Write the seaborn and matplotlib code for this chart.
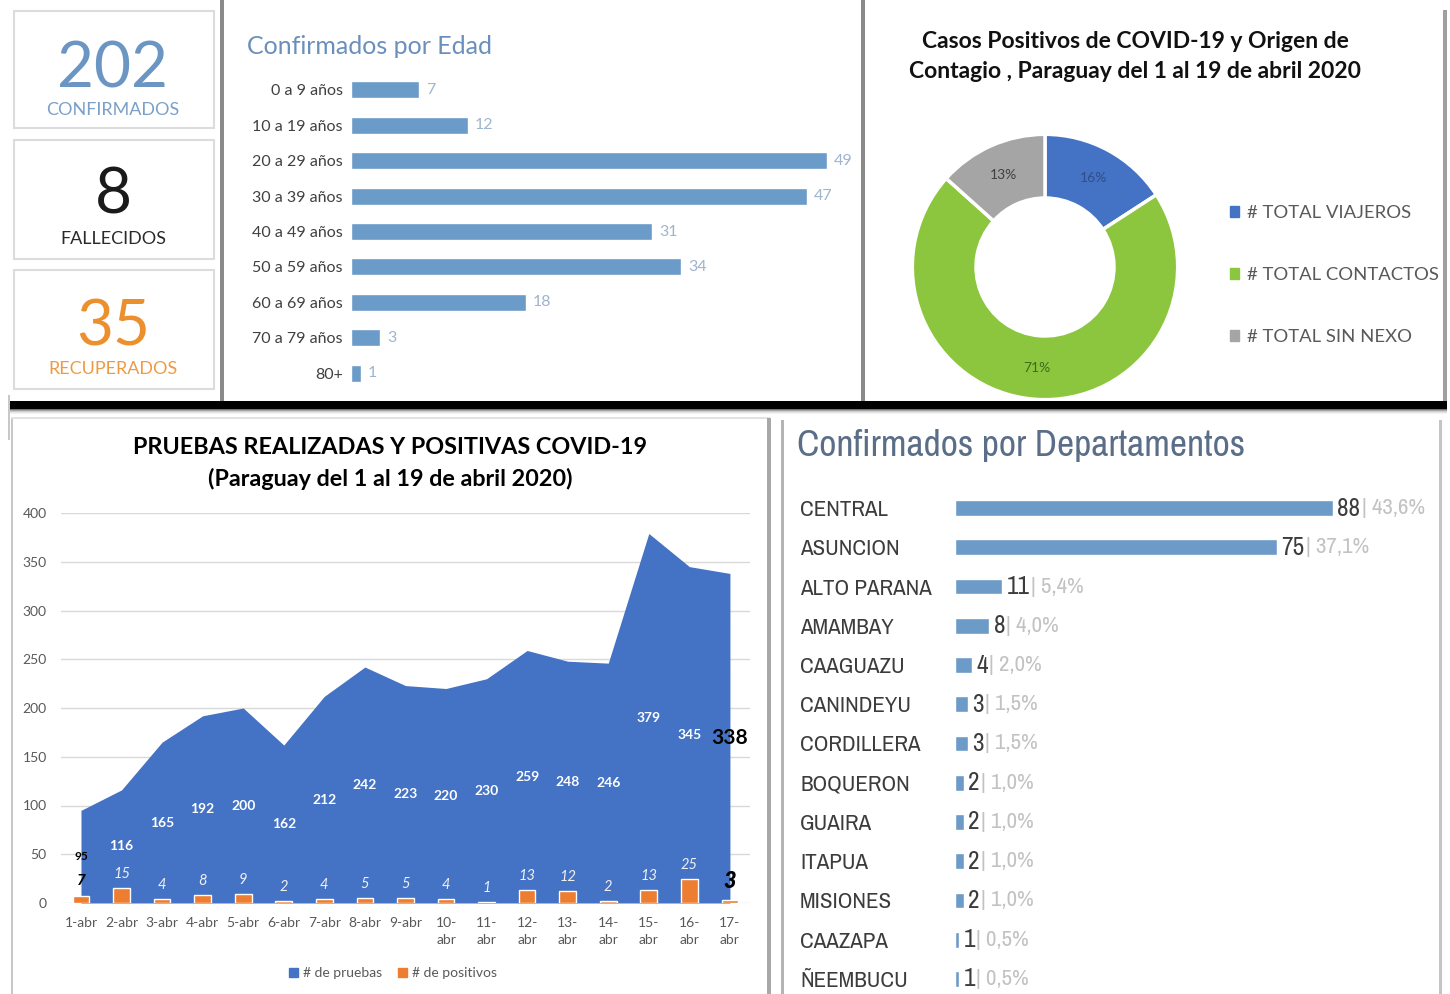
import numpy as np
import pandas as pd
import matplotlib
matplotlib.use("Agg")
import matplotlib.pyplot as plt
import seaborn as sns
from matplotlib.patches import Rectangle, Patch
from matplotlib import font_manager

# ---------------- data ----------------
kpi_values = [202, 8, 35]
kpi_labels = ["CONFIRMADOS", "FALLECIDOS", "RECUPERADOS"]

age_groups = ["0 a 9 años", "10 a 19 años", "20 a 29 años", "30 a 39 años",
              "40 a 49 años", "50 a 59 años", "60 a 69 años", "70 a 79 años", "80+"]
age_cases = [7, 12, 49, 47, 31, 34, 18, 3, 1]

origin_labels = ["# TOTAL VIAJEROS", "# TOTAL CONTACTOS", "# TOTAL SIN NEXO"]
origin_cases = [32, 143, 27]

days = ["1-abr", "2-abr", "3-abr", "4-abr", "5-abr", "6-abr", "7-abr", "8-abr", "9-abr",
        "10-\nabr", "11-\nabr", "12-\nabr", "13-\nabr", "14-\nabr", "15-\nabr", "16-\nabr", "17-\nabr"]
tests = [95, 116, 165, 192, 200, 162, 212, 242, 223, 220, 230, 259, 248, 246, 379, 345, 338]
positives = [7, 15, 4, 8, 9, 2, 4, 5, 5, 4, 1, 13, 12, 2, 13, 25, 3]

departments = ["CENTRAL", "ASUNCION", "ALTO PARANA", "AMAMBAY", "CAAGUAZU", "CANINDEYU",
               "CORDILLERA", "BOQUERON", "GUAIRA", "ITAPUA", "MISIONES", "CAAZAPA", "ÑEEMBUCU"]
dept_cases = [88, 75, 11, 8, 4, 3, 3, 2, 2, 2, 2, 1, 1]
dept_pct = ["43,6%", "37,1%", "5,4%", "4,0%", "2,0%", "1,5%", "1,5%",
            "1,0%", "1,0%", "1,0%", "1,0%", "0,5%", "0,5%"]

# ---------------- setup ----------------
sns.set_theme(style="white")
plt.rcParams["font.family"] = ["Lato", "DejaVu Sans"]
names = sorted({f.name for f in font_manager.fontManager.ttflist})
NARROW = None
for n in names:
    if "Narrow" in n or "Condensed" in n:
        NARROW = n
        break
if NARROW is None:
    NARROW = "Roboto"
    narrow_scale = 0.86
else:
    narrow_scale = 1.0

W, H = 1450, 994
fig = plt.figure(figsize=(W / 100, H / 100), dpi=100)
fig.patch.set_facecolor("white")


def fy(y):
    return 1 - y / H


def add_ax(x0, y0, x1, y1):
    a = fig.add_axes([x0 / W, 1 - y1 / H, (x1 - x0) / W, (y1 - y0) / H])
    a.set_facecolor("none")
    return a


def rect(x0, y0, x1, y1, **kw):
    fig.add_artist(Rectangle((x0 / W, 1 - y1 / H), (x1 - x0) / W, (y1 - y0) / H,
                             transform=fig.transFigure, **kw))


# ---------------- frames / shadows ----------------
rect(8, 401, 1447, 409, color="black", lw=0)
for i, a in enumerate([0.55, 0.35, 0.2, 0.1, 0.05]):
    rect(8, 409 + i, 1447, 410 + i, color="black", alpha=a, lw=0)
rect(220, 0, 224, 401, color="#8a8a8a", lw=0)
rect(861, 0, 865, 401, color="#8a8a8a", lw=0)
rect(1443, 10, 1447, 401, color="#a0a0a0", lw=0)
rect(8, 395, 10, 440, color="#c8c8c8", lw=0)
for (y0, y1) in [(11, 128), (140, 259), (270, 389)]:
    rect(14, y0, 214, y1, fill=False, edgecolor="#dcdcdc", lw=1.5)
rect(11, 418, 12.5, 994, color="#c8c8c8", lw=0)
rect(11, 417, 770, 418.5, color="#e2e2e2", lw=0)
rect(767, 418, 771, 994, color="#a8a8a8", lw=0)
rect(781, 420, 784, 994, color="#b4b4b4", lw=0)
rect(1439, 420, 1442, 994, color="#c4c4c4", lw=0)

# ---------------- KPI boxes ----------------
kpi_colors = ["#6b96c3", "#1a1a1a", "#ec8f2d"]
kpi_label_colors = ["#7aa0c8", "#2a2a2a", "#ee9a45"]
num_base = [88, 213, 345]
lab_base = [115, 244, 374]
for v, lab, c, lc, nb, lb in zip(kpi_values, kpi_labels, kpi_colors, kpi_label_colors, num_base, lab_base):
    fig.text(113 / W, fy(nb), str(v), ha="center", va="baseline", fontsize=46, color=c)
    fig.text(113 / W, fy(lb), lab, ha="center", va="baseline", fontsize=13, color=lc)

# ---------------- Age bar chart ----------------
fig.text(247 / W, fy(46), "Confirmados por Edad", ha="left", va="center",
         fontsize=18, color="#6b8fbb")
ax1 = add_ax(351, 72.3, 851, 390.7)
df_age = pd.DataFrame({"edad": age_groups, "casos": age_cases})
sns.barplot(data=df_age, y="edad", x="casos", orient="h", color="#6b9bc8",
            saturation=1, width=0.48, ax=ax1)
ax1.set_xlim(0, 51.5)
ax1.set_xlabel("")
ax1.set_ylabel("")
ax1.set_xticks([])
sns.despine(ax=ax1, left=True, bottom=True)
ax1.tick_params(axis="y", length=0, pad=5.8, labelsize=11.5, labelcolor="#404040")
for cont in ax1.containers:
    ax1.bar_label(cont, padding=5, color="#9fb4cd", fontsize=11.5)

# ---------------- Donut ----------------
fig.text(1135 / W, fy(41), "Casos Positivos de COVID-19 y Origen de", ha="center", va="center",
         fontsize=16.5, fontweight="bold", color="#111111")
fig.text(1135 / W, fy(72), "Contagio , Paraguay del 1 al 19 de abril 2020", ha="center", va="center",
         fontsize=16.5, fontweight="bold", color="#111111")
ax2 = add_ax(911, 133, 1179, 401)
donut_colors = ["#4472c4", "#8cc63e", "#a5a5a5"]
wedges, texts, autotexts = ax2.pie(
    origin_cases, colors=donut_colors, startangle=90, counterclock=False, radius=1,
    wedgeprops=dict(width=0.48, edgecolor="white", linewidth=2.5),
    autopct=lambda p: f"{p:.0f}%", pctdistance=0.76, textprops=dict(fontsize=10))
for t, c in zip(autotexts, ["#2f4f86", "#3f6a1c", "#404040"]):
    t.set_color(c)
ax2.set_xlim(-1.01, 1.01)
ax2.set_ylim(-1.01, 1.01)
ax2.set_aspect("equal")
handles = [Patch(color=c) for c in donut_colors]
ax2.legend(handles, origin_labels, loc="center left",
           bbox_to_anchor=(1230 / W, fy(275)), bbox_transform=fig.transFigure,
           frameon=False, fontsize=13.3, labelspacing=2.5, handlelength=0.5,
           handleheight=0.5, handletextpad=0.4, borderaxespad=0, borderpad=0,
           labelcolor="#595959")

# ---------------- Area + bars chart ----------------
fig.text(390 / W, fy(447), "PRUEBAS REALIZADAS Y POSITIVAS COVID-19", ha="center", va="center",
         fontsize=16.8, fontweight="bold", color="black")
fig.text(390 / W, fy(479), "(Paraguay del 1 al 19 de abril 2020)", ha="center", va="center",
         fontsize=16.8, fontweight="bold", color="black")
ax3 = add_ax(60.7, 513, 750.2, 903)
df_t = pd.DataFrame({"dia": days, "pruebas": tests, "positivos": positives})
x = np.arange(len(days))
ax3.fill_between(x, df_t["pruebas"], color="#4472c4", lw=0, zorder=2)
sns.barplot(data=df_t, x="dia", y="positivos", color="#ed7d31", saturation=1,
            width=0.41, ax=ax3, zorder=3)
ax3.set_xlim(-0.5, len(days) - 0.5)
ax3.set_ylim(0, 400)
ax3.set_yticks(np.arange(0, 401, 50))
ax3.set_xlabel("")
ax3.set_ylabel("")
ax3.yaxis.grid(True, color="#d9d9d9", lw=1)
ax3.set_axisbelow(True)
sns.despine(ax=ax3, left=True, bottom=True)
ax3.tick_params(axis="y", length=0, pad=10, labelsize=10, labelcolor="#595959")
ax3.tick_params(axis="x", length=0, pad=10, labelsize=10, labelcolor="#595959")
for lbl in ax3.get_xticklabels():
    lbl.set_linespacing(1.5)
    lbl.set_va("top")
for i, v in enumerate(tests):
    if i == 0:
        kw = dict(color="black", fontsize=8.5, fontweight="bold")
    elif i == len(tests) - 1:
        kw = dict(color="black", fontsize=15, fontweight="bold")
    else:
        kw = dict(color="white", fontsize=10, fontweight="bold")
    ax3.text(i, v / 2, str(v), ha="center", va="center", zorder=5, **kw)
for i, v in enumerate(positives):
    if i == 0:
        kw = dict(color="black", fontsize=11, fontweight="bold", offs=6)
    elif i == len(positives) - 1:
        kw = dict(color="black", fontsize=15.5, fontweight="heavy", offs=6)
    else:
        kw = dict(color="#f0f0f0", fontsize=10.5, fontweight="normal", offs=5)
    offs = kw.pop("offs")
    ax3.annotate(str(v), (i, v), xytext=(0, offs), textcoords="offset points",
                 ha="center", va="bottom", style="italic", zorder=5, **kw)
fig.legend([Patch(color="#4472c4"), Patch(color="#ed7d31")], ["# de pruebas", "# de positivos"],
           loc="center", bbox_to_anchor=(393 / W, fy(973)), ncol=2, frameon=False,
           fontsize=10, handlelength=0.6, handleheight=0.6, handletextpad=0.35,
           columnspacing=1.2, labelcolor="#595959")

# ---------------- Departments chart ----------------
fig.text(797 / W, fy(446), "Confirmados por Departamentos", ha="left", va="center",
         fontsize=27 * narrow_scale, color="#5b6e88", family=NARROW)
ax4 = add_ax(955, 488.4, 1440, 998.6)
df_d = pd.DataFrame({"dep": departments, "casos": dept_cases, "pct": dept_pct})
sns.barplot(data=df_d, y="dep", x="casos", orient="h", color="#6d9bc8", saturation=1,
            width=0.4, ax=ax4)
ax4.set_xlim(0, (1440 - 955) / 4.295)
ax4.set_xlabel("")
ax4.set_ylabel("")
ax4.set_xticks([])
sns.despine(ax=ax4, left=True, bottom=True)
ax4.tick_params(axis="y", length=0, pad=111.6)
dfs = 16.5 * narrow_scale
for lbl in ax4.get_yticklabels():
    lbl.set_ha("left")
    lbl.set_family(NARROW)
    lbl.set_fontsize(dfs)
    lbl.set_color("#3c3c3c")
for i, (v, p) in enumerate(zip(df_d["casos"], df_d["pct"])):
    t1 = ax4.annotate(str(v), xy=(v, i), xytext=(3, 0), textcoords="offset points",
                      ha="left", va="center", fontsize=dfs * 1.1, color="#3c3c3c", family=NARROW)
    ax4.annotate("| " + p, xy=(1, 0.5), xycoords=t1, xytext=(1, 0), textcoords="offset points",
                 ha="left", va="center", fontsize=dfs, color="#c2c2c2", family=NARROW)

fig.savefig("out.png", dpi=100)
